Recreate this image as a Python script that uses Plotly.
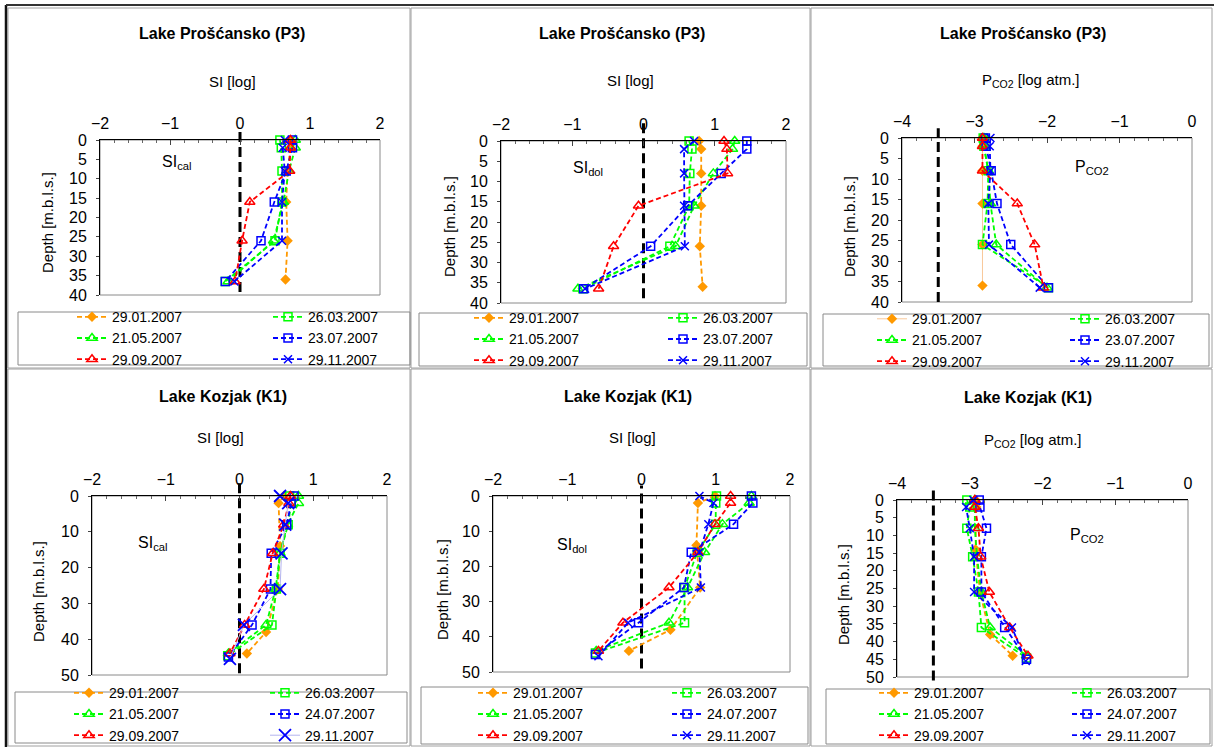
import plotly.graph_objects as go

W, H = 1215, 749
FONT = "Arial, Liberation Sans, sans-serif"

ORANGE = "#FF9900"
GREEN = "#00FF00"
BLUE = "#0000FF"
RED = "#FF0000"

DATES_P3 = ["29.01.2007", "26.03.2007", "21.05.2007", "23.07.2007", "29.09.2007", "29.11.2007"]
DATES_K1 = ["29.01.2007", "26.03.2007", "21.05.2007", "24.07.2007", "29.09.2007", "29.11.2007"]

# ---------------- Lake Proščansko (P3) ----------------
P3_DEPTHS = [
    [0, 2, 8, 16, 26, 36],
    [0, 2, 8, 16, 26, 36.5],
    [0, 2, 8, 16, 26, 36.5],
    [0, 2, 8, 16, 26, 36.5],
    [0, 2, 8, 16, 26, 36.5],
    [0, 2, 8, 16, 26, 36.5],
]
P3_SI_CAL = [
    [0.72, 0.72, 0.68, 0.66, 0.68, 0.65],
    [0.57, 0.59, 0.60, 0.60, 0.50, -0.21],
    [0.79, 0.79, 0.70, 0.62, 0.48, -0.17],
    [0.75, 0.75, 0.66, 0.49, 0.30, -0.21],
    [0.72, 0.72, 0.71, 0.14, 0.03, -0.07],
    [0.64, 0.61, 0.64, 0.60, 0.60, -0.08],
]
P3_SI_DOL = [
    [0.78, 0.81, 0.81, 0.81, 0.79, 0.83],
    [0.64, 0.68, 0.65, 0.64, 0.37, -0.85],
    [1.28, 1.25, 0.98, 0.71, 0.45, -0.92],
    [1.45, 1.45, 1.09, 0.62, 0.10, -0.84],
    [1.13, 1.17, 1.18, -0.07, -0.42, -0.63],
    [0.71, 0.57, 0.57, 0.57, 0.58, -0.82],
]
P3_PCO2 = [
    [-2.89, -2.89, -2.89, -2.89, -2.89, -2.89],
    [-2.88, -2.87, -2.81, -2.82, -2.89, -1.98],
    [-2.87, -2.87, -2.81, -2.78, -2.70, -2.00],
    [-2.85, -2.84, -2.77, -2.69, -2.50, -1.98],
    [-2.89, -2.89, -2.89, -2.41, -2.17, -2.05],
    [-2.78, -2.79, -2.78, -2.81, -2.80, -2.10],
]

# ---------------- Lake Kozjak (K1) ----------------
K1_DEPTHS = [
    [0, 2, 14, 26, 38, 44],
    [0, 2, 8, 16, 26, 36, 44.6],
    [0, 2, 8, 16, 26, 36, 44],
    [0, 2, 8, 16, 26, 36, 45],
    [0, 2, 8, 16, 26, 36, 44],
    [0, 2, 8, 16, 26, 36, 45.5],
]
K1_SI_CAL = [
    [0.60, 0.53, 0.55, 0.52, 0.36, 0.10],
    [0.68, 0.70, 0.66, 0.55, 0.50, 0.44, -0.16],
    [0.80, 0.80, 0.65, 0.55, 0.49, 0.36, -0.15],
    [0.74, 0.70, 0.64, 0.43, 0.42, 0.17, -0.15],
    [0.69, 0.67, 0.60, 0.45, 0.33, 0.07, -0.13],
    [0.55, 0.66, 0.62, 0.57, 0.55, 0.06, -0.13],
]
K1_SI_DOL = [
    [0.99, 0.76, 0.74, 0.79, 0.39, -0.17],
    [1.01, 1.00, 1.00, 0.75, 0.58, 0.58, -0.62],
    [1.48, 1.45, 1.09, 0.85, 0.62, 0.37, -0.61],
    [1.48, 1.50, 1.24, 0.67, 0.57, -0.04, -0.62],
    [1.20, 1.20, 0.99, 0.76, 0.37, -0.25, -0.58],
    [0.78, 0.97, 0.90, 0.78, 0.80, -0.18, -0.58],
]
K1_PCO2 = [
    [-2.92, -2.91, -2.92, -2.86, -2.72, -2.41],
    [-3.04, -3.00, -3.04, -2.96, -2.88, -2.84, -2.22],
    [-2.93, -2.93, -2.93, -2.90, -2.84, -2.72, -2.22],
    [-2.87, -2.86, -2.77, -2.84, -2.84, -2.52, -2.22],
    [-2.93, -2.93, -2.88, -2.85, -2.73, -2.45, -2.20],
    [-2.95, -3.05, -3.00, -2.94, -2.94, -2.42, -2.23],
]

SI_EQUILIBRIUM = 0.0
PCO2_ATMOSPHERE = -3.5

SI_RANGE = [-2, 2]
PCO2_RANGE = [-4, 0]

# series styles (by sampling-date slot)
STYLES = [
    dict(color=ORANGE, symbol="diamond", size=8),
    dict(color=GREEN, symbol="square-open", size=8),
    dict(color=GREEN, symbol="triangle-up-open", size=9),
    dict(color=BLUE, symbol="square-open", size=8),
    dict(color=RED, symbol="triangle-up-open", size=9),
    dict(color=BLUE, symbol="x-thin-open", size=8),
]


def px(x):
    return x / W


def py(y):
    return 1 - y / H


PANELS = [
    dict(title="Lake Prošćansko (P3)", xtitle="SI [log]", label="SI<sub>cal</sub>",
         depths=P3_DEPTHS, values=P3_SI_CAL, dates=DATES_P3, xrange=SI_RANGE, ref=SI_EQUILIBRIUM,
         ymax=40, ydtick=5, box=(100, 140, 380, 295), title_xy=(222, 34), xtitle_xy=(232, 82),
         ytitle_xy=(47, 223), label_xy=(176, 162), ref_ext=(0.02, 1.077),
         leg=(112, 308, 338, (18, 312, 410, 365))),
    dict(title="Lake Prošćansko (P3)", xtitle="SI [log]", label="SI<sub>dol</sub>",
         depths=P3_DEPTHS, values=P3_SI_DOL, dates=DATES_P3, xrange=SI_RANGE, ref=SI_EQUILIBRIUM,
         ymax=40, ydtick=5, box=(501, 141, 786, 303), title_xy=(622, 34), xtitle_xy=(630, 81),
         ytitle_xy=(449, 227), label_xy=(588, 168), ref_ext=(0.03, 1.14),
         leg=(509, 703, 339, (419, 313, 807, 366))),
    dict(title="Lake Prošćansko (P3)", xtitle="P<sub>CO2</sub> [log atm.]", label="P<sub>CO2</sub>",
         depths=P3_DEPTHS, values=P3_PCO2, dates=DATES_P3, xrange=PCO2_RANGE, ref=PCO2_ATMOSPHERE,
         ymax=40, ydtick=5, box=(902, 138, 1192, 302), title_xy=(1023, 34), xtitle_xy=(1030, 81),
         ytitle_xy=(849, 227), label_xy=(1092, 167), ref_ext=(0.0, 1.06),
         leg=(912, 1105, 340, (823, 314, 1209, 366))),
    dict(title="Lake Kozjak (K1)", xtitle="SI [log]", label="SI<sub>cal</sub>",
         depths=K1_DEPTHS, values=K1_SI_CAL, dates=DATES_K1, xrange=SI_RANGE, ref=SI_EQUILIBRIUM,
         ymax=50, ydtick=10, box=(92, 496, 387, 675), title_xy=(223, 396), xtitle_xy=(220, 437),
         ytitle_xy=(38, 592), label_xy=(153, 543), ref_ext=(0.01, 1.08),
         leg=(109, 305, 714, (15, 692, 407, 743))),
    dict(title="Lake Kozjak (K1)", xtitle="SI [log]", label="SI<sub>dol</sub>",
         depths=K1_DEPTHS, values=K1_SI_DOL, dates=DATES_K1, xrange=SI_RANGE, ref=SI_EQUILIBRIUM,
         ymax=50, ydtick=10, box=(493, 496, 790, 672), title_xy=(628, 396), xtitle_xy=(632, 437),
         ytitle_xy=(442, 589), label_xy=(572, 545), ref_ext=(0.02, 1.06),
         leg=(513, 707, 714, (421, 687, 808, 744))),
    dict(title="Lake Kozjak (K1)", xtitle="P<sub>CO2</sub> [log atm.]", label="P<sub>CO2</sub>",
         depths=K1_DEPTHS, values=K1_PCO2, dates=DATES_K1, xrange=PCO2_RANGE, ref=PCO2_ATMOSPHERE,
         ymax=50, ydtick=5, box=(897, 500, 1188, 677), title_xy=(1028, 397), xtitle_xy=(1032, 441),
         ytitle_xy=(843, 595), label_xy=(1087, 535), ref_ext=(-0.02, 1.07),
         leg=(914, 1107, 714, (826, 689, 1210, 744))),
]

LEG_FONT = 14
ROW_H = max(LEG_FONT * 1.3, 16) + 3

fig = go.Figure()
layout = dict(
    width=W, height=H, autosize=False,
    margin=dict(l=0, r=0, t=0, b=0, autoexpand=False),
    paper_bgcolor="white", plot_bgcolor="white",
    font=dict(family=FONT, color="black", size=15),
    showlegend=True,
)
shapes = []
annotations = []

# panel frames
FRAMES = [(8, 8, 410, 368), (411, 8, 810, 368), (811, 8, 1212, 368),
          (8, 369, 410, 746), (411, 369, 810, 746), (811, 369, 1212, 746)]
for (x0, y0, x1, y1) in FRAMES:
    shapes.append(dict(type="rect", xref="paper", yref="paper", x0=px(x0), x1=px(x1),
                       y0=py(y1), y1=py(y0), line=dict(color="#A0A0A0", width=1), layer="below"))
shapes.append(dict(type="line", xref="paper", yref="paper", x0=px(6), x1=px(6), y0=py(747), y1=py(5),
                   line=dict(color="#111111", width=2.5)))
shapes.append(dict(type="line", xref="paper", yref="paper", x0=px(6), x1=px(1214), y0=py(5), y1=py(5),
                   line=dict(color="#333333", width=2)))

for i, p in enumerate(PANELS, start=1):
    sfx = "" if i == 1 else str(i)
    xa, ya = "x" + sfx, "y" + sfx
    bx0, by0, bx1, by1 = p["box"]
    layout["xaxis" + sfx] = dict(
        domain=[px(bx0), px(bx1)], anchor=ya, side="top", range=p["xrange"], dtick=1,
        showline=True, linecolor="black", linewidth=1, ticks="inside", ticklen=5,
        tickcolor="#444", minor=dict(dtick=0.2, ticks="inside", ticklen=3, tickcolor="#666"),
        showgrid=False, zeroline=False, tickfont=dict(size=16, family=FONT),
        ticklabelstandoff=4, fixedrange=True, automargin=False,
    )
    layout["yaxis" + sfx] = dict(
        domain=[py(by1), py(by0)], anchor=xa, range=[p["ymax"], 0], dtick=p["ydtick"],
        showline=True, linecolor="black", linewidth=1, ticks="outside", ticklen=3,
        tickcolor="#444", showgrid=False, zeroline=False, tickfont=dict(size=16, family=FONT),
        ticklabelstandoff=6, fixedrange=True, automargin=False,
    )
    # plot-area frame
    shapes.append(dict(type="rect", xref=xa + " domain", yref=ya + " domain", x0=0, x1=1, y0=0, y1=1,
                       line=dict(color="#8A8A8A", width=1), layer="below"))
    # reference (equilibrium / atmosphere) dashed line
    shapes.append(dict(type="line", xref=xa, yref=ya + " domain", x0=p["ref"], x1=p["ref"],
                       y0=p["ref_ext"][0], y1=p["ref_ext"][1],
                       line=dict(color="black", width=3, dash="10px,5px"), layer="below"))

    lx_left, lx_right, mid_row, lbox = p["leg"]
    leg_top = mid_row - ROW_H - 5 - ROW_H / 2
    leg_left_id = "legend" if i == 1 else "legend%d" % (2 * i - 1)
    leg_right_id = "legend%d" % (2 * i)
    for lid, tx in ((leg_left_id, lx_left), (leg_right_id, lx_right)):
        layout[lid] = dict(x=px(tx - 40), y=py(leg_top), xanchor="left", yanchor="top",
                           bgcolor="rgba(0,0,0,0)", borderwidth=0, orientation="v",
                           font=dict(size=LEG_FONT, family=FONT, color="black"),
                           itemclick=False, itemdoubleclick=False)
    shapes.append(dict(type="rect", xref="paper", yref="paper", x0=px(lbox[0]), x1=px(lbox[2]),
                       y0=py(lbox[3]), y1=py(lbox[1]), line=dict(color="#8A8A8A", width=1)))

    for k in range(6):
        st = STYLES[k]
        line = dict(color=st["color"], width=1.8, dash="5px,3px")
        mk = dict(symbol=st["symbol"], size=st["size"], color=st["color"],
                  line=dict(width=1.5 if "open" in st["symbol"] else 0, color=st["color"]))
        if i == 3 and k == 0:
            line = dict(color="#F8C89A", width=1)
        if i == 4 and k == 5:
            line = dict(color="#B4B4EE", width=1)
            mk = dict(symbol="x-thin-open", size=12, color=BLUE, line=dict(width=1.8, color=BLUE))
        fig.add_trace(go.Scatter(
            x=p["values"][k], y=p["depths"][k], mode="lines+markers", name=p["dates"][k],
            xaxis=xa, yaxis=ya, line=line, marker=mk, cliponaxis=False,
            legend=leg_left_id if k % 2 == 0 else leg_right_id, hoverinfo="skip",
        ))

    cx, cy = p["title_xy"]
    annotations.append(dict(text="<b>%s</b>" % p["title"], x=px(cx), y=py(cy), xref="paper", yref="paper",
                            showarrow=False, xanchor="center", yanchor="middle",
                            font=dict(size=16, family=FONT, color="black")))
    cx, cy = p["xtitle_xy"]
    annotations.append(dict(text=p["xtitle"], x=px(cx), y=py(cy), xref="paper", yref="paper",
                            showarrow=False, xanchor="center", yanchor="middle",
                            font=dict(size=15, family=FONT, color="black")))
    cx, cy = p["ytitle_xy"]
    annotations.append(dict(text="Depth [m.b.l.s.]", x=px(cx), y=py(cy), xref="paper", yref="paper",
                            showarrow=False, xanchor="center", yanchor="middle", textangle=-90,
                            font=dict(size=15, family=FONT, color="black")))
    cx, cy = p["label_xy"]
    annotations.append(dict(text=p["label"], x=px(cx), y=py(cy), xref="paper", yref="paper",
                            showarrow=False, xanchor="center", yanchor="middle",
                            font=dict(size=16, family=FONT, color="black")))

layout["shapes"] = shapes
layout["annotations"] = annotations
fig.update_layout(**layout)
fig.write_html("out.html", config={"displayModeBar": False},
               post_script="document.body.style.margin='0';document.body.style.overflow='hidden';")
